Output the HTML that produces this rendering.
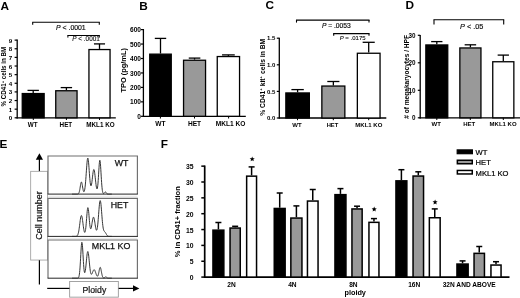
<!DOCTYPE html>
<html><head><meta charset="utf-8"><style>
html,body{margin:0;padding:0;background:#fff;}
body{width:520px;height:298px;overflow:hidden;}
svg{display:block;filter:grayscale(1) blur(0.35px);font-family:"Liberation Sans",sans-serif;}
</style></head><body>
<svg width="520" height="298" viewBox="0 0 520 298">
<rect x="0" y="0" width="520" height="298" fill="#fff"/>
<text x="0.50" y="10.40" font-size="11.8" font-weight="bold" text-anchor="start" fill="#000" style="">A</text>
<line x1="17.20" y1="39.60" x2="17.20" y2="118.40" stroke="#000" stroke-width="1.3"/>
<line x1="14.60" y1="117.80" x2="17.20" y2="117.80" stroke="#000" stroke-width="1.2"/>
<text x="12.30" y="120.30" font-size="6.2" font-weight="bold" text-anchor="end" fill="#000" style="">0</text>
<line x1="14.60" y1="109.17" x2="17.20" y2="109.17" stroke="#000" stroke-width="1.2"/>
<text x="12.30" y="111.67" font-size="6.2" font-weight="bold" text-anchor="end" fill="#000" style="">1</text>
<line x1="14.60" y1="100.54" x2="17.20" y2="100.54" stroke="#000" stroke-width="1.2"/>
<text x="12.30" y="103.04" font-size="6.2" font-weight="bold" text-anchor="end" fill="#000" style="">2</text>
<line x1="14.60" y1="91.91" x2="17.20" y2="91.91" stroke="#000" stroke-width="1.2"/>
<text x="12.30" y="94.41" font-size="6.2" font-weight="bold" text-anchor="end" fill="#000" style="">3</text>
<line x1="14.60" y1="83.28" x2="17.20" y2="83.28" stroke="#000" stroke-width="1.2"/>
<text x="12.30" y="85.78" font-size="6.2" font-weight="bold" text-anchor="end" fill="#000" style="">4</text>
<line x1="14.60" y1="74.65" x2="17.20" y2="74.65" stroke="#000" stroke-width="1.2"/>
<text x="12.30" y="77.15" font-size="6.2" font-weight="bold" text-anchor="end" fill="#000" style="">5</text>
<line x1="14.60" y1="66.02" x2="17.20" y2="66.02" stroke="#000" stroke-width="1.2"/>
<text x="12.30" y="68.52" font-size="6.2" font-weight="bold" text-anchor="end" fill="#000" style="">6</text>
<line x1="14.60" y1="57.39" x2="17.20" y2="57.39" stroke="#000" stroke-width="1.2"/>
<text x="12.30" y="59.89" font-size="6.2" font-weight="bold" text-anchor="end" fill="#000" style="">7</text>
<line x1="14.60" y1="48.76" x2="17.20" y2="48.76" stroke="#000" stroke-width="1.2"/>
<text x="12.30" y="51.26" font-size="6.2" font-weight="bold" text-anchor="end" fill="#000" style="">8</text>
<line x1="14.60" y1="40.13" x2="17.20" y2="40.13" stroke="#000" stroke-width="1.2"/>
<text x="12.30" y="42.63" font-size="6.2" font-weight="bold" text-anchor="end" fill="#000" style="">9</text>
<line x1="16.60" y1="117.80" x2="115.80" y2="117.80" stroke="#000" stroke-width="1.3"/>
<line x1="33.20" y1="92.90" x2="33.20" y2="90.40" stroke="#000" stroke-width="1.3"/>
<line x1="27.50" y1="90.40" x2="38.90" y2="90.40" stroke="#000" stroke-width="1.3"/>
<rect x="22.25" y="93.55" width="21.90" height="24.25" fill="#000" stroke="#000" stroke-width="1.3"/>
<line x1="66.40" y1="90.10" x2="66.40" y2="87.60" stroke="#000" stroke-width="1.3"/>
<line x1="60.70" y1="87.60" x2="72.10" y2="87.60" stroke="#000" stroke-width="1.3"/>
<rect x="55.75" y="90.75" width="21.30" height="27.05" fill="#999" stroke="#000" stroke-width="1.3"/>
<line x1="99.50" y1="48.90" x2="99.50" y2="43.90" stroke="#000" stroke-width="1.3"/>
<line x1="93.95" y1="43.90" x2="105.05" y2="43.90" stroke="#000" stroke-width="1.3"/>
<rect x="88.95" y="49.55" width="21.10" height="68.25" fill="#fff" stroke="#000" stroke-width="1.3"/>
<line x1="33.30" y1="117.80" x2="33.30" y2="120.00" stroke="#000" stroke-width="1.0"/>
<line x1="66.40" y1="117.80" x2="66.40" y2="120.00" stroke="#000" stroke-width="1.0"/>
<line x1="99.50" y1="117.80" x2="99.50" y2="120.00" stroke="#000" stroke-width="1.0"/>
<text x="32.60" y="126.60" font-size="6.3" font-weight="bold" text-anchor="middle" fill="#000" style="">WT</text>
<text x="65.90" y="126.60" font-size="6.3" font-weight="bold" text-anchor="middle" fill="#000" style="">HET</text>
<text x="100.50" y="126.60" font-size="6.3" font-weight="bold" text-anchor="middle" fill="#000" style="">MKL1 KO</text>
<text x="6.20" y="76.60" font-size="6.55" font-weight="bold" text-anchor="middle" fill="#000" style="" transform="rotate(-90 6.20 76.60)" textLength="59.6" lengthAdjust="spacingAndGlyphs">% CD41<tspan font-size="4.2" dy="-2.1">+</tspan><tspan dy="2.1"> cells in BM</tspan></text>
<line x1="32.20" y1="22.30" x2="99.80" y2="22.30" stroke="#000" stroke-width="1.1"/>
<line x1="32.70" y1="22.30" x2="32.70" y2="24.80" stroke="#000" stroke-width="1.1"/>
<line x1="99.30" y1="22.30" x2="99.30" y2="24.80" stroke="#000" stroke-width="1.1"/>
<text x="56.00" y="30.30" font-size="6.9" font-weight="normal" text-anchor="start" fill="#111" style="" stroke="#111" stroke-width="0.18"><tspan style="font-style:italic">P</tspan> &lt; .0001</text>
<line x1="67.40" y1="35.50" x2="99.80" y2="35.50" stroke="#000" stroke-width="1.0"/>
<line x1="67.90" y1="35.50" x2="67.90" y2="37.60" stroke="#000" stroke-width="1.0"/>
<line x1="99.30" y1="35.50" x2="99.30" y2="37.60" stroke="#000" stroke-width="1.0"/>
<text x="72.30" y="40.60" font-size="6.4" font-weight="normal" text-anchor="start" fill="#111" style="" stroke="#111" stroke-width="0.12"><tspan style="font-style:italic">P</tspan> &lt; .0001</text>
<text x="139.30" y="9.60" font-size="11.8" font-weight="bold" text-anchor="start" fill="#000" style="">B</text>
<line x1="143.40" y1="29.00" x2="143.40" y2="116.90" stroke="#000" stroke-width="1.3"/>
<line x1="141.00" y1="116.30" x2="143.40" y2="116.30" stroke="#000" stroke-width="1.2"/>
<text x="141.00" y="118.90" font-size="6.6" font-weight="bold" text-anchor="end" fill="#000" style="">0</text>
<line x1="141.00" y1="101.85" x2="143.40" y2="101.85" stroke="#000" stroke-width="1.2"/>
<text x="141.00" y="104.45" font-size="6.6" font-weight="bold" text-anchor="end" fill="#000" style="">100</text>
<line x1="141.00" y1="87.40" x2="143.40" y2="87.40" stroke="#000" stroke-width="1.2"/>
<text x="141.00" y="90.00" font-size="6.6" font-weight="bold" text-anchor="end" fill="#000" style="">200</text>
<line x1="141.00" y1="72.95" x2="143.40" y2="72.95" stroke="#000" stroke-width="1.2"/>
<text x="141.00" y="75.55" font-size="6.6" font-weight="bold" text-anchor="end" fill="#000" style="">300</text>
<line x1="141.00" y1="58.50" x2="143.40" y2="58.50" stroke="#000" stroke-width="1.2"/>
<text x="141.00" y="61.10" font-size="6.6" font-weight="bold" text-anchor="end" fill="#000" style="">400</text>
<line x1="141.00" y1="44.05" x2="143.40" y2="44.05" stroke="#000" stroke-width="1.2"/>
<text x="141.00" y="46.65" font-size="6.6" font-weight="bold" text-anchor="end" fill="#000" style="">500</text>
<line x1="141.00" y1="29.60" x2="143.40" y2="29.60" stroke="#000" stroke-width="1.2"/>
<text x="141.00" y="32.20" font-size="6.6" font-weight="bold" text-anchor="end" fill="#000" style="">600</text>
<line x1="142.80" y1="116.30" x2="245.80" y2="116.30" stroke="#000" stroke-width="1.3"/>
<line x1="160.50" y1="53.50" x2="160.50" y2="38.40" stroke="#000" stroke-width="1.3"/>
<line x1="154.80" y1="38.40" x2="166.20" y2="38.40" stroke="#000" stroke-width="1.3"/>
<rect x="149.75" y="54.15" width="21.50" height="62.15" fill="#000" stroke="#000" stroke-width="1.3"/>
<line x1="194.55" y1="59.60" x2="194.55" y2="58.10" stroke="#000" stroke-width="1.3"/>
<line x1="188.75" y1="58.10" x2="200.35" y2="58.10" stroke="#000" stroke-width="1.3"/>
<rect x="183.55" y="60.25" width="22.00" height="56.05" fill="#999" stroke="#000" stroke-width="1.3"/>
<line x1="228.40" y1="55.90" x2="228.40" y2="54.90" stroke="#000" stroke-width="1.3"/>
<line x1="222.05" y1="54.90" x2="234.75" y2="54.90" stroke="#000" stroke-width="1.3"/>
<rect x="217.25" y="56.55" width="22.30" height="59.75" fill="#fff" stroke="#000" stroke-width="1.3"/>
<line x1="160.40" y1="116.30" x2="160.40" y2="118.50" stroke="#000" stroke-width="1.0"/>
<line x1="194.50" y1="116.30" x2="194.50" y2="118.50" stroke="#000" stroke-width="1.0"/>
<line x1="228.60" y1="116.30" x2="228.60" y2="118.50" stroke="#000" stroke-width="1.0"/>
<text x="160.50" y="125.70" font-size="6.6" font-weight="bold" text-anchor="middle" fill="#000" style="">WT</text>
<text x="194.50" y="125.70" font-size="6.6" font-weight="bold" text-anchor="middle" fill="#000" style="">HET</text>
<text x="230.60" y="125.70" font-size="6.6" font-weight="bold" text-anchor="middle" fill="#000" style="">MKL1 KO</text>
<text x="126.40" y="70.30" font-size="7.45" font-weight="bold" text-anchor="middle" fill="#000" style="" transform="rotate(-90 126.40 70.30)">TPO (pg/mL)</text>
<text x="265.40" y="8.70" font-size="11.8" font-weight="bold" text-anchor="start" fill="#000" style="">C</text>
<line x1="279.30" y1="37.70" x2="279.30" y2="118.60" stroke="#000" stroke-width="1.3"/>
<line x1="276.80" y1="118.00" x2="279.30" y2="118.00" stroke="#000" stroke-width="1.2"/>
<text x="275.30" y="120.20" font-size="6.0" font-weight="bold" text-anchor="end" fill="#000" style="">0.0</text>
<line x1="276.80" y1="91.40" x2="279.30" y2="91.40" stroke="#000" stroke-width="1.2"/>
<text x="275.30" y="93.60" font-size="6.0" font-weight="bold" text-anchor="end" fill="#000" style="">0.5</text>
<line x1="276.80" y1="64.80" x2="279.30" y2="64.80" stroke="#000" stroke-width="1.2"/>
<text x="275.30" y="67.00" font-size="6.0" font-weight="bold" text-anchor="end" fill="#000" style="">1.0</text>
<line x1="276.80" y1="38.20" x2="279.30" y2="38.20" stroke="#000" stroke-width="1.2"/>
<text x="275.30" y="40.40" font-size="6.0" font-weight="bold" text-anchor="end" fill="#000" style="">1.5</text>
<line x1="278.70" y1="118.00" x2="386.30" y2="118.00" stroke="#000" stroke-width="1.3"/>
<line x1="297.60" y1="92.30" x2="297.60" y2="89.60" stroke="#000" stroke-width="1.3"/>
<line x1="291.40" y1="89.60" x2="303.80" y2="89.60" stroke="#000" stroke-width="1.3"/>
<rect x="285.85" y="92.95" width="23.50" height="25.05" fill="#000" stroke="#000" stroke-width="1.3"/>
<line x1="333.35" y1="85.40" x2="333.35" y2="81.50" stroke="#000" stroke-width="1.3"/>
<line x1="327.30" y1="81.50" x2="339.40" y2="81.50" stroke="#000" stroke-width="1.3"/>
<rect x="321.85" y="86.05" width="23.00" height="31.95" fill="#999" stroke="#000" stroke-width="1.3"/>
<line x1="368.70" y1="52.60" x2="368.70" y2="42.30" stroke="#000" stroke-width="1.3"/>
<line x1="362.65" y1="42.30" x2="374.75" y2="42.30" stroke="#000" stroke-width="1.3"/>
<rect x="357.35" y="53.25" width="22.70" height="64.75" fill="#fff" stroke="#000" stroke-width="1.3"/>
<line x1="297.50" y1="118.00" x2="297.50" y2="120.20" stroke="#000" stroke-width="1.0"/>
<line x1="333.30" y1="118.00" x2="333.30" y2="120.20" stroke="#000" stroke-width="1.0"/>
<line x1="368.70" y1="118.00" x2="368.70" y2="120.20" stroke="#000" stroke-width="1.0"/>
<text x="297.00" y="126.60" font-size="6.0" font-weight="bold" text-anchor="middle" fill="#000" style="">WT</text>
<text x="332.50" y="126.60" font-size="5.8" font-weight="bold" text-anchor="middle" fill="#000" style="">HET</text>
<text x="368.80" y="126.60" font-size="6.0" font-weight="bold" text-anchor="middle" fill="#000" style="">MKL1 KO</text>
<text x="264.60" y="77.30" font-size="6.75" font-weight="bold" text-anchor="middle" fill="#000" style="" transform="rotate(-90 264.60 77.30)">% CD41<tspan font-size="4.3" dy="-2.2">+</tspan><tspan dy="2.2"> kit</tspan><tspan font-size="4.3" dy="-2.2">+</tspan><tspan dy="2.2"> cells in BM</tspan></text>
<line x1="296.00" y1="20.10" x2="369.50" y2="20.10" stroke="#000" stroke-width="1.1"/>
<line x1="296.50" y1="20.10" x2="296.50" y2="22.60" stroke="#000" stroke-width="1.1"/>
<line x1="369.00" y1="20.10" x2="369.00" y2="22.60" stroke="#000" stroke-width="1.1"/>
<text x="321.90" y="28.10" font-size="6.7" font-weight="normal" text-anchor="start" fill="#111" style="" stroke="#111" stroke-width="0.18"><tspan style="font-style:italic">P</tspan> = .0053</text>
<line x1="333.20" y1="33.60" x2="369.50" y2="33.60" stroke="#000" stroke-width="1.1"/>
<line x1="333.70" y1="33.60" x2="333.70" y2="35.70" stroke="#000" stroke-width="1.1"/>
<line x1="369.00" y1="33.60" x2="369.00" y2="35.70" stroke="#000" stroke-width="1.1"/>
<text x="339.70" y="39.90" font-size="6.0" font-weight="normal" text-anchor="start" fill="#111" style="" stroke="#111" stroke-width="0.12"><tspan style="font-style:italic">P</tspan> = .0175</text>
<text x="405.50" y="9.40" font-size="11.8" font-weight="bold" text-anchor="start" fill="#000" style="">D</text>
<line x1="420.20" y1="34.90" x2="420.20" y2="118.40" stroke="#000" stroke-width="1.3"/>
<line x1="417.80" y1="117.80" x2="420.20" y2="117.80" stroke="#000" stroke-width="1.2"/>
<text x="415.40" y="120.10" font-size="6.3" font-weight="bold" text-anchor="end" fill="#000" style="">0</text>
<line x1="417.80" y1="90.30" x2="420.20" y2="90.30" stroke="#000" stroke-width="1.2"/>
<text x="415.40" y="92.60" font-size="6.3" font-weight="bold" text-anchor="end" fill="#000" style="">10</text>
<line x1="417.80" y1="62.80" x2="420.20" y2="62.80" stroke="#000" stroke-width="1.2"/>
<text x="415.40" y="65.10" font-size="6.3" font-weight="bold" text-anchor="end" fill="#000" style="">20</text>
<line x1="417.80" y1="35.30" x2="420.20" y2="35.30" stroke="#000" stroke-width="1.2"/>
<text x="415.40" y="37.60" font-size="6.3" font-weight="bold" text-anchor="end" fill="#000" style="">30</text>
<line x1="419.60" y1="117.80" x2="520.00" y2="117.80" stroke="#000" stroke-width="1.3"/>
<line x1="436.80" y1="44.30" x2="436.80" y2="41.60" stroke="#000" stroke-width="1.3"/>
<line x1="431.15" y1="41.60" x2="442.45" y2="41.60" stroke="#000" stroke-width="1.3"/>
<rect x="425.85" y="44.95" width="21.90" height="72.85" fill="#000" stroke="#000" stroke-width="1.3"/>
<line x1="470.40" y1="47.30" x2="470.40" y2="44.80" stroke="#000" stroke-width="1.3"/>
<line x1="464.65" y1="44.80" x2="476.15" y2="44.80" stroke="#000" stroke-width="1.3"/>
<rect x="459.85" y="47.95" width="21.10" height="69.85" fill="#999" stroke="#000" stroke-width="1.3"/>
<line x1="503.30" y1="61.10" x2="503.30" y2="55.10" stroke="#000" stroke-width="1.3"/>
<line x1="497.65" y1="55.10" x2="508.95" y2="55.10" stroke="#000" stroke-width="1.3"/>
<rect x="492.75" y="61.75" width="21.10" height="56.05" fill="#fff" stroke="#000" stroke-width="1.3"/>
<line x1="436.80" y1="117.80" x2="436.80" y2="120.00" stroke="#000" stroke-width="1.0"/>
<line x1="470.30" y1="117.80" x2="470.30" y2="120.00" stroke="#000" stroke-width="1.0"/>
<line x1="503.30" y1="117.80" x2="503.30" y2="120.00" stroke="#000" stroke-width="1.0"/>
<text x="436.20" y="126.00" font-size="6.0" font-weight="bold" text-anchor="middle" fill="#000" style="">WT</text>
<text x="469.20" y="126.00" font-size="6.0" font-weight="bold" text-anchor="middle" fill="#000" style="">HET</text>
<text x="503.10" y="126.00" font-size="6.0" font-weight="bold" text-anchor="middle" fill="#000" style="">MKL1 KO</text>
<text x="408.90" y="76.90" font-size="6.58" font-weight="bold" text-anchor="middle" fill="#000" style="" transform="rotate(-90 408.90 76.90)"># of megakaryocytes / HPF</text>
<line x1="433.50" y1="19.80" x2="504.20" y2="19.80" stroke="#000" stroke-width="1.1"/>
<line x1="434.00" y1="19.80" x2="434.00" y2="24.60" stroke="#000" stroke-width="1.1"/>
<line x1="503.70" y1="19.80" x2="503.70" y2="24.60" stroke="#000" stroke-width="1.1"/>
<text x="460.00" y="28.70" font-size="7.3" font-weight="normal" text-anchor="start" fill="#111" style="" stroke="#111" stroke-width="0.18"><tspan style="font-style:italic">P</tspan> &lt; .05</text>
<text x="-0.50" y="148.30" font-size="11.8" font-weight="bold" text-anchor="start" fill="#000" style="">E</text>
<path d="M39.4 153.2 L43.0 159.8 L35.8 159.8 Z" fill="#000"/>
<line x1="39.40" y1="159.00" x2="39.40" y2="171.30" stroke="#000" stroke-width="1.2"/>
<rect x="30.65" y="171.35" width="16.90" height="88.70" fill="none" stroke="#a5a5a5" stroke-width="0.9"/>
<text x="42.40" y="215.40" font-size="9.0" font-weight="normal" text-anchor="middle" fill="#111" style="" transform="rotate(-90 42.40 215.40)" stroke="#111" stroke-width="0.2">Cell number</text>
<line x1="39.40" y1="260.20" x2="39.40" y2="284.50" stroke="#000" stroke-width="1.2"/>
<path d="M48.0 194.10 L48.0 156.00 L137.4 156.00 L137.4 194.10" fill="none" stroke="#6e6e6e" stroke-width="1.15"/>
<path d="M48.0 236.40 L48.0 198.40 L137.4 198.40 L137.4 236.40" fill="none" stroke="#6e6e6e" stroke-width="1.15"/>
<path d="M48.0 278.20 L48.0 240.00 L137.4 240.00 L137.4 278.20" fill="none" stroke="#6e6e6e" stroke-width="1.15"/>
<line x1="48.00" y1="196.30" x2="137.40" y2="196.30" stroke="#e2e2e2" stroke-width="0.8"/>
<line x1="48.00" y1="238.40" x2="137.40" y2="238.40" stroke="#e2e2e2" stroke-width="0.8"/>
<line x1="47.60" y1="194.10" x2="137.90" y2="194.10" stroke="#262626" stroke-width="1.0"/>
<polyline points="72.00,194.10 72.20,194.10 72.40,194.10 72.60,194.10 72.80,194.10 73.00,194.10 73.20,194.10 73.40,194.10 73.60,194.10 73.80,194.10 74.00,194.10 74.20,194.10 74.40,194.10 74.60,194.10 74.80,194.10 75.00,194.10 75.20,194.10 75.40,194.10 75.60,194.10 75.80,194.10 76.00,194.10 76.20,194.10 76.40,194.10 76.60,194.10 76.80,194.10 77.00,194.09 77.20,194.08 77.40,194.07 77.60,194.05 77.80,194.01 78.00,193.95 78.20,193.85 78.40,193.70 78.60,193.48 78.80,193.16 79.00,192.73 79.20,192.16 79.40,191.43 79.60,190.55 79.80,189.50 80.00,188.33 80.20,187.08 80.40,185.81 80.60,184.60 80.80,183.54 81.00,182.71 81.20,182.18 81.40,182.00 81.60,182.17 81.80,182.70 82.00,183.52 82.20,184.57 82.40,185.75 82.60,186.99 82.80,188.19 83.00,189.29 83.20,190.22 83.40,190.95 83.60,191.44 83.80,191.70 84.00,191.71 84.20,191.45 84.40,190.94 84.60,190.15 84.80,189.07 85.00,187.71 85.20,186.03 85.40,184.06 85.60,181.80 85.80,179.29 86.00,176.57 86.20,173.72 86.40,170.81 86.60,167.96 86.80,165.27 87.00,162.87 87.20,160.87 87.40,159.35 87.60,158.41 87.80,158.09 88.00,158.40 88.20,159.33 88.40,160.82 88.60,162.79 88.80,165.15 89.00,167.77 89.20,170.54 89.40,173.32 89.60,176.00 89.80,178.49 90.00,180.69 90.20,182.55 90.40,184.02 90.60,185.06 90.80,185.68 91.00,185.86 91.20,185.64 91.40,185.03 91.60,184.07 91.80,182.81 92.00,181.32 92.20,179.65 92.40,177.89 92.60,176.11 92.80,174.40 93.00,172.85 93.20,171.52 93.40,170.48 93.60,169.80 93.80,169.50 94.00,169.61 94.20,170.11 94.40,171.00 94.60,172.21 94.80,173.71 95.00,175.41 95.20,177.25 95.40,179.14 95.60,181.03 95.80,182.84 96.00,184.50 96.20,185.97 96.40,187.20 96.60,188.14 96.80,188.74 97.00,188.97 97.20,188.77 97.40,188.11 97.60,186.95 97.80,185.29 98.00,183.12 98.20,180.49 98.40,177.48 98.60,174.23 98.80,170.90 99.00,167.70 99.20,164.85 99.40,162.55 99.60,161.00 99.80,160.31 100.00,160.55 100.20,161.70 100.40,163.67 100.60,166.30 100.80,169.39 101.00,172.74 101.20,176.15 101.40,179.42 101.60,182.43 101.80,185.07 102.00,187.31 102.20,189.13 102.40,190.56 102.60,191.64 102.80,192.43 103.00,192.98 103.20,193.34 103.40,193.54 103.60,193.61 103.80,193.58 104.00,193.45 104.20,193.24 104.40,192.97 104.60,192.67 104.80,192.38 105.00,192.13 105.20,191.96 105.40,191.90 105.60,191.96 105.80,192.13 106.00,192.39 106.20,192.69 106.40,193.00 106.60,193.29 106.80,193.53 107.00,193.73 107.20,193.87 107.40,193.96 107.60,194.02 107.80,194.06 108.00,194.08 108.20,194.09 108.40,194.10 108.60,194.10 108.80,194.10 109.00,194.10 109.20,194.10 109.40,194.10 109.60,194.10 109.80,194.10 110.00,194.10 110.20,194.10 110.40,194.10 110.60,194.10 110.80,194.10 111.00,194.10 111.20,194.10 111.40,194.10 111.60,194.10 111.80,194.10" fill="none" stroke="#2a2a2a" stroke-width="0.95" stroke-linejoin="round"/>
<line x1="47.60" y1="236.40" x2="137.90" y2="236.40" stroke="#262626" stroke-width="1.0"/>
<polyline points="72.00,236.40 72.20,236.40 72.40,236.40 72.60,236.40 72.80,236.40 73.00,236.40 73.20,236.40 73.40,236.40 73.60,236.40 73.80,236.40 74.00,236.40 74.20,236.40 74.40,236.40 74.60,236.40 74.80,236.40 75.00,236.39 75.20,236.39 75.40,236.38 75.60,236.37 75.80,236.35 76.00,236.33 76.20,236.29 76.40,236.24 76.60,236.17 76.80,236.06 77.00,235.92 77.20,235.73 77.40,235.48 77.60,235.15 77.80,234.74 78.00,234.21 78.20,233.57 78.40,232.80 78.60,231.88 78.80,230.82 79.00,229.61 79.20,228.28 79.40,226.83 79.60,225.30 79.80,223.72 80.00,222.15 80.20,220.62 80.40,219.21 80.60,217.96 80.80,216.92 81.00,216.14 81.20,215.66 81.40,215.50 81.60,215.66 81.80,216.14 82.00,216.92 82.20,217.95 82.40,219.20 82.60,220.61 82.80,222.13 83.00,223.69 83.20,225.25 83.40,226.75 83.60,228.14 83.80,229.38 84.00,230.45 84.20,231.32 84.40,231.94 84.60,232.31 84.80,232.39 85.00,232.17 85.20,231.61 85.40,230.71 85.60,229.44 85.80,227.83 86.00,225.88 86.20,223.64 86.40,221.19 86.60,218.62 86.80,216.04 87.00,213.60 87.20,211.42 87.40,209.65 87.60,208.39 87.80,207.73 88.00,207.70 88.20,208.32 88.40,209.52 88.60,211.23 88.80,213.32 89.00,215.65 89.20,218.09 89.40,220.48 89.60,222.70 89.80,224.66 90.00,226.28 90.20,227.51 90.40,228.34 90.60,228.76 90.80,228.80 91.00,228.49 91.20,227.87 91.40,227.00 91.60,225.94 91.80,224.74 92.00,223.47 92.20,222.18 92.40,220.94 92.60,219.80 92.80,218.82 93.00,218.04 93.20,217.50 93.40,217.23 93.60,217.23 93.80,217.50 94.00,218.04 94.20,218.82 94.40,219.80 94.60,220.95 94.80,222.20 95.00,223.52 95.20,224.84 95.40,226.11 95.60,227.28 95.80,228.32 96.00,229.17 96.20,229.79 96.40,230.17 96.60,230.26 96.80,230.06 97.00,229.53 97.20,228.67 97.40,227.48 97.60,225.96 97.80,224.13 98.00,222.02 98.20,219.68 98.40,217.15 98.60,214.52 98.80,211.88 99.00,209.30 99.20,206.90 99.40,204.77 99.60,203.01 99.80,201.68 100.00,200.86 100.20,200.58 100.40,200.85 100.60,201.66 100.80,202.96 101.00,204.71 101.20,206.80 101.40,209.17 101.60,211.69 101.80,214.28 102.00,216.85 102.20,219.30 102.40,221.57 102.60,223.61 102.80,225.40 103.00,226.91 103.20,228.15 103.40,229.13 103.60,229.89 103.80,230.45 104.00,230.87 104.20,231.18 104.40,231.42 104.60,231.62 104.80,231.83 105.00,232.04 105.20,232.29 105.40,232.57 105.60,232.88 105.80,233.22 106.00,233.58 106.20,233.94 106.40,234.30 106.60,234.64 106.80,234.95 107.00,235.23 107.20,235.48 107.40,235.69 107.60,235.86 107.80,236.00 108.00,236.11 108.20,236.19 108.40,236.25 108.60,236.30 108.80,236.33 109.00,236.36 109.20,236.37 109.40,236.38 109.60,236.39 109.80,236.39 110.00,236.40 110.20,236.40 110.40,236.40 110.60,236.40 110.80,236.40 111.00,236.40 111.20,236.40 111.40,236.40 111.60,236.40 111.80,236.40" fill="none" stroke="#2a2a2a" stroke-width="0.95" stroke-linejoin="round"/>
<line x1="47.60" y1="278.20" x2="137.90" y2="278.20" stroke="#262626" stroke-width="1.0"/>
<polyline points="72.00,278.20 72.20,278.20 72.40,278.20 72.60,278.20 72.80,278.20 73.00,278.20 73.20,278.20 73.40,278.20 73.60,278.20 73.80,278.20 74.00,278.20 74.20,278.20 74.40,278.20 74.60,278.20 74.80,278.20 75.00,278.20 75.20,278.20 75.40,278.20 75.60,278.20 75.80,278.20 76.00,278.20 76.20,278.20 76.40,278.20 76.60,278.20 76.80,278.20 77.00,278.19 77.20,278.18 77.40,278.17 77.60,278.14 77.80,278.10 78.00,278.02 78.20,277.89 78.40,277.69 78.60,277.38 78.80,276.92 79.00,276.26 79.20,275.34 79.40,274.10 79.60,272.48 79.80,270.44 80.00,267.95 80.20,265.04 80.40,261.76 80.60,258.24 80.80,254.61 81.00,251.10 81.20,247.91 81.40,245.28 81.60,243.40 81.80,242.42 82.00,242.41 82.20,243.38 82.40,245.24 82.60,247.85 82.80,251.00 83.00,254.46 83.20,257.99 83.40,261.40 83.60,264.51 83.80,267.19 84.00,269.36 84.20,270.98 84.40,272.06 84.60,272.60 84.80,272.65 85.00,272.25 85.20,271.44 85.40,270.27 85.60,268.78 85.80,267.04 86.00,265.10 86.20,263.03 86.40,260.90 86.60,258.79 86.80,256.81 87.00,255.03 87.20,253.55 87.40,252.43 87.60,251.73 87.80,251.49 88.00,251.72 88.20,252.41 88.40,253.52 88.60,254.99 88.80,256.75 89.00,258.72 89.20,260.79 89.40,262.90 89.60,264.95 89.80,266.88 90.00,268.63 90.20,270.16 90.40,271.46 90.60,272.50 90.80,273.29 91.00,273.84 91.20,274.17 91.40,274.29 91.60,274.24 91.80,274.03 92.00,273.71 92.20,273.29 92.40,272.80 92.60,272.28 92.80,271.75 93.00,271.24 93.20,270.77 93.40,270.37 93.60,270.04 93.80,269.82 94.00,269.71 94.20,269.71 94.40,269.83 94.60,270.06 94.80,270.39 95.00,270.81 95.20,271.30 95.40,271.85 95.60,272.43 95.80,273.03 96.00,273.62 96.20,274.19 96.40,274.72 96.60,275.20 96.80,275.60 97.00,275.91 97.20,276.11 97.40,276.20 97.60,276.15 97.80,275.94 98.00,275.58 98.20,275.04 98.40,274.35 98.60,273.50 98.80,272.55 99.00,271.52 99.20,270.47 99.40,269.49 99.60,268.62 99.80,267.95 100.00,267.53 100.20,267.39 100.40,267.54 100.60,267.98 100.80,268.67 101.00,269.55 101.20,270.57 101.40,271.65 101.60,272.73 101.80,273.76 102.00,274.69 102.20,275.51 102.40,276.19 102.60,276.74 102.80,277.16 103.00,277.48 103.20,277.71 103.40,277.87 103.60,277.96 103.80,277.99 104.00,277.98 104.20,277.92 104.40,277.82 104.60,277.67 104.80,277.49 105.00,277.30 105.20,277.11 105.40,276.95 105.60,276.84 105.80,276.80 106.00,276.84 106.20,276.95 106.40,277.11 106.60,277.30 106.80,277.50 107.00,277.68 107.20,277.84 107.40,277.96 107.60,278.05 107.80,278.11 108.00,278.15 108.20,278.17 108.40,278.19 108.60,278.19 108.80,278.20 109.00,278.20 109.20,278.20 109.40,278.20 109.60,278.20 109.80,278.20 110.00,278.20 110.20,278.20 110.40,278.20 110.60,278.20 110.80,278.20 111.00,278.20 111.20,278.20 111.40,278.20 111.60,278.20 111.80,278.20" fill="none" stroke="#2a2a2a" stroke-width="0.95" stroke-linejoin="round"/>
<text x="121.50" y="165.80" font-size="8.8" font-weight="normal" text-anchor="middle" fill="#111" style="" stroke="#111" stroke-width="0.25">WT</text>
<text x="119.50" y="207.50" font-size="8.8" font-weight="normal" text-anchor="middle" fill="#111" style="" stroke="#111" stroke-width="0.25">HET</text>
<text x="111.10" y="249.00" font-size="8.9" font-weight="normal" text-anchor="middle" fill="#111" style="" stroke="#111" stroke-width="0.25">MKL1 KO</text>
<rect x="69.65" y="281.45" width="48.70" height="15.70" fill="none" stroke="#9a9a9a" stroke-width="0.9"/>
<text x="94.40" y="292.80" font-size="8.7" font-weight="normal" text-anchor="middle" fill="#111" style="" stroke="#111" stroke-width="0.2">Ploidy</text>
<line x1="47.20" y1="288.40" x2="69.50" y2="288.40" stroke="#000" stroke-width="1.2"/>
<line x1="118.60" y1="288.40" x2="133.50" y2="288.40" stroke="#000" stroke-width="1.2"/>
<path d="M139.4 288.4 L133.0 285.3 L133.0 291.5 Z" fill="#000"/>
<text x="160.70" y="148.40" font-size="11.8" font-weight="bold" text-anchor="start" fill="#000" style="">F</text>
<line x1="204.70" y1="165.50" x2="204.70" y2="277.90" stroke="#000" stroke-width="1.7"/>
<line x1="201.30" y1="277.10" x2="204.70" y2="277.10" stroke="#000" stroke-width="1.5"/>
<text x="193.60" y="280.10" font-size="6.8" font-weight="bold" text-anchor="end" fill="#000" style="">0</text>
<line x1="201.30" y1="261.25" x2="204.70" y2="261.25" stroke="#000" stroke-width="1.5"/>
<text x="193.60" y="264.25" font-size="6.8" font-weight="bold" text-anchor="end" fill="#000" style="">5</text>
<line x1="201.30" y1="245.40" x2="204.70" y2="245.40" stroke="#000" stroke-width="1.5"/>
<text x="193.60" y="248.40" font-size="6.8" font-weight="bold" text-anchor="end" fill="#000" style="">10</text>
<line x1="201.30" y1="229.55" x2="204.70" y2="229.55" stroke="#000" stroke-width="1.5"/>
<text x="193.60" y="232.55" font-size="6.8" font-weight="bold" text-anchor="end" fill="#000" style="">15</text>
<line x1="201.30" y1="213.70" x2="204.70" y2="213.70" stroke="#000" stroke-width="1.5"/>
<text x="193.60" y="216.70" font-size="6.8" font-weight="bold" text-anchor="end" fill="#000" style="">20</text>
<line x1="201.30" y1="197.85" x2="204.70" y2="197.85" stroke="#000" stroke-width="1.5"/>
<text x="193.60" y="200.85" font-size="6.8" font-weight="bold" text-anchor="end" fill="#000" style="">25</text>
<line x1="201.30" y1="182.00" x2="204.70" y2="182.00" stroke="#000" stroke-width="1.5"/>
<text x="193.60" y="185.00" font-size="6.8" font-weight="bold" text-anchor="end" fill="#000" style="">30</text>
<line x1="201.30" y1="166.15" x2="204.70" y2="166.15" stroke="#000" stroke-width="1.5"/>
<text x="193.60" y="169.15" font-size="6.8" font-weight="bold" text-anchor="end" fill="#000" style="">35</text>
<line x1="203.90" y1="277.10" x2="509.50" y2="277.10" stroke="#000" stroke-width="1.7"/>
<line x1="218.40" y1="229.40" x2="218.40" y2="222.50" stroke="#000" stroke-width="1.5"/>
<line x1="215.40" y1="222.50" x2="221.40" y2="222.50" stroke="#000" stroke-width="1.5"/>
<rect x="212.95" y="230.15" width="10.90" height="46.95" fill="#000" stroke="#000" stroke-width="1.5"/>
<line x1="235.15" y1="227.30" x2="235.15" y2="226.30" stroke="#000" stroke-width="1.5"/>
<line x1="232.15" y1="226.30" x2="238.15" y2="226.30" stroke="#000" stroke-width="1.5"/>
<rect x="230.05" y="228.05" width="10.20" height="49.05" fill="#999" stroke="#000" stroke-width="1.5"/>
<line x1="251.60" y1="175.40" x2="251.60" y2="166.90" stroke="#000" stroke-width="1.5"/>
<line x1="248.60" y1="166.90" x2="254.60" y2="166.90" stroke="#000" stroke-width="1.5"/>
<rect x="246.65" y="176.15" width="9.90" height="100.95" fill="#fff" stroke="#000" stroke-width="1.5"/>
<line x1="279.70" y1="207.70" x2="279.70" y2="193.00" stroke="#000" stroke-width="1.5"/>
<line x1="276.70" y1="193.00" x2="282.70" y2="193.00" stroke="#000" stroke-width="1.5"/>
<rect x="274.25" y="208.45" width="10.90" height="68.65" fill="#000" stroke="#000" stroke-width="1.5"/>
<line x1="296.40" y1="217.30" x2="296.40" y2="205.90" stroke="#000" stroke-width="1.5"/>
<line x1="293.40" y1="205.90" x2="299.40" y2="205.90" stroke="#000" stroke-width="1.5"/>
<rect x="290.85" y="218.05" width="11.10" height="59.05" fill="#999" stroke="#000" stroke-width="1.5"/>
<line x1="312.75" y1="200.30" x2="312.75" y2="189.50" stroke="#000" stroke-width="1.5"/>
<line x1="309.75" y1="189.50" x2="315.75" y2="189.50" stroke="#000" stroke-width="1.5"/>
<rect x="307.45" y="201.05" width="10.60" height="76.05" fill="#fff" stroke="#000" stroke-width="1.5"/>
<line x1="340.45" y1="193.90" x2="340.45" y2="188.60" stroke="#000" stroke-width="1.5"/>
<line x1="337.45" y1="188.60" x2="343.45" y2="188.60" stroke="#000" stroke-width="1.5"/>
<rect x="334.95" y="194.65" width="11.00" height="82.45" fill="#000" stroke="#000" stroke-width="1.5"/>
<line x1="357.05" y1="208.20" x2="357.05" y2="206.20" stroke="#000" stroke-width="1.5"/>
<line x1="354.05" y1="206.20" x2="360.05" y2="206.20" stroke="#000" stroke-width="1.5"/>
<rect x="351.95" y="208.95" width="10.20" height="68.15" fill="#999" stroke="#000" stroke-width="1.5"/>
<line x1="373.95" y1="221.60" x2="373.95" y2="218.60" stroke="#000" stroke-width="1.5"/>
<line x1="370.95" y1="218.60" x2="376.95" y2="218.60" stroke="#000" stroke-width="1.5"/>
<rect x="368.95" y="222.35" width="10.00" height="54.75" fill="#fff" stroke="#000" stroke-width="1.5"/>
<line x1="401.40" y1="180.10" x2="401.40" y2="169.70" stroke="#000" stroke-width="1.5"/>
<line x1="398.40" y1="169.70" x2="404.40" y2="169.70" stroke="#000" stroke-width="1.5"/>
<rect x="395.95" y="180.85" width="10.90" height="96.25" fill="#000" stroke="#000" stroke-width="1.5"/>
<line x1="418.30" y1="175.30" x2="418.30" y2="171.80" stroke="#000" stroke-width="1.5"/>
<line x1="415.30" y1="171.80" x2="421.30" y2="171.80" stroke="#000" stroke-width="1.5"/>
<rect x="413.05" y="176.05" width="10.50" height="101.05" fill="#999" stroke="#000" stroke-width="1.5"/>
<line x1="434.75" y1="217.00" x2="434.75" y2="208.90" stroke="#000" stroke-width="1.5"/>
<line x1="431.75" y1="208.90" x2="437.75" y2="208.90" stroke="#000" stroke-width="1.5"/>
<rect x="429.35" y="217.75" width="10.80" height="59.35" fill="#fff" stroke="#000" stroke-width="1.5"/>
<line x1="462.55" y1="263.30" x2="462.55" y2="260.90" stroke="#000" stroke-width="1.5"/>
<line x1="459.55" y1="260.90" x2="465.55" y2="260.90" stroke="#000" stroke-width="1.5"/>
<rect x="456.95" y="264.05" width="11.20" height="13.05" fill="#000" stroke="#000" stroke-width="1.5"/>
<line x1="479.25" y1="252.60" x2="479.25" y2="246.50" stroke="#000" stroke-width="1.5"/>
<line x1="476.25" y1="246.50" x2="482.25" y2="246.50" stroke="#000" stroke-width="1.5"/>
<rect x="474.05" y="253.35" width="10.40" height="23.75" fill="#999" stroke="#000" stroke-width="1.5"/>
<line x1="496.00" y1="264.30" x2="496.00" y2="261.70" stroke="#000" stroke-width="1.5"/>
<line x1="493.00" y1="261.70" x2="499.00" y2="261.70" stroke="#000" stroke-width="1.5"/>
<rect x="490.95" y="265.05" width="10.10" height="12.05" fill="#fff" stroke="#000" stroke-width="1.5"/>
<polygon points="252.20,156.40 252.91,158.13 254.77,158.27 253.34,159.47 253.79,161.28 252.20,160.30 250.61,161.28 251.06,159.47 249.63,158.27 251.49,158.13" fill="#000"/>
<polygon points="374.20,206.60 374.91,208.33 376.77,208.47 375.34,209.67 375.79,211.48 374.20,210.50 372.61,211.48 373.06,209.67 371.63,208.47 373.49,208.33" fill="#000"/>
<polygon points="435.10,199.50 435.81,201.23 437.67,201.37 436.24,202.57 436.69,204.38 435.10,203.40 433.51,204.38 433.96,202.57 432.53,201.37 434.39,201.23" fill="#000"/>
<text x="231.50" y="286.70" font-size="6.6" font-weight="bold" text-anchor="middle" fill="#000" style="">2N</text>
<text x="292.40" y="286.70" font-size="6.6" font-weight="bold" text-anchor="middle" fill="#000" style="">4N</text>
<text x="353.40" y="286.70" font-size="6.6" font-weight="bold" text-anchor="middle" fill="#000" style="">8N</text>
<text x="414.20" y="286.70" font-size="6.6" font-weight="bold" text-anchor="middle" fill="#000" style="">16N</text>
<text x="469.20" y="286.70" font-size="6.6" font-weight="bold" text-anchor="middle" fill="#000" style="">32N AND ABOVE</text>
<text x="355.20" y="295.30" font-size="7.3" font-weight="bold" text-anchor="middle" fill="#000" style="">ploidy</text>
<text x="179.90" y="221.70" font-size="7.55" font-weight="bold" text-anchor="middle" fill="#000" style="" transform="rotate(-90 179.90 221.70)">% in CD41+ fraction</text>
<rect x="457.20" y="149.90" width="15.20" height="3.80" fill="#000" stroke="#000" stroke-width="1.2"/>
<rect x="457.35" y="160.25" width="14.90" height="3.50" fill="#999" stroke="#000" stroke-width="1.5"/>
<rect x="457.35" y="170.45" width="14.90" height="3.50" fill="#fff" stroke="#000" stroke-width="1.5"/>
<text x="475.50" y="154.90" font-size="7.6" font-weight="normal" text-anchor="start" fill="#000" style="" stroke="#000" stroke-width="0.2">WT</text>
<text x="475.60" y="165.00" font-size="7.6" font-weight="normal" text-anchor="start" fill="#000" style="" stroke="#000" stroke-width="0.2">HET</text>
<text x="475.60" y="175.80" font-size="7.6" font-weight="normal" text-anchor="start" fill="#000" style="" stroke="#000" stroke-width="0.2">MKL1 KO</text>
</svg>
</body></html>
